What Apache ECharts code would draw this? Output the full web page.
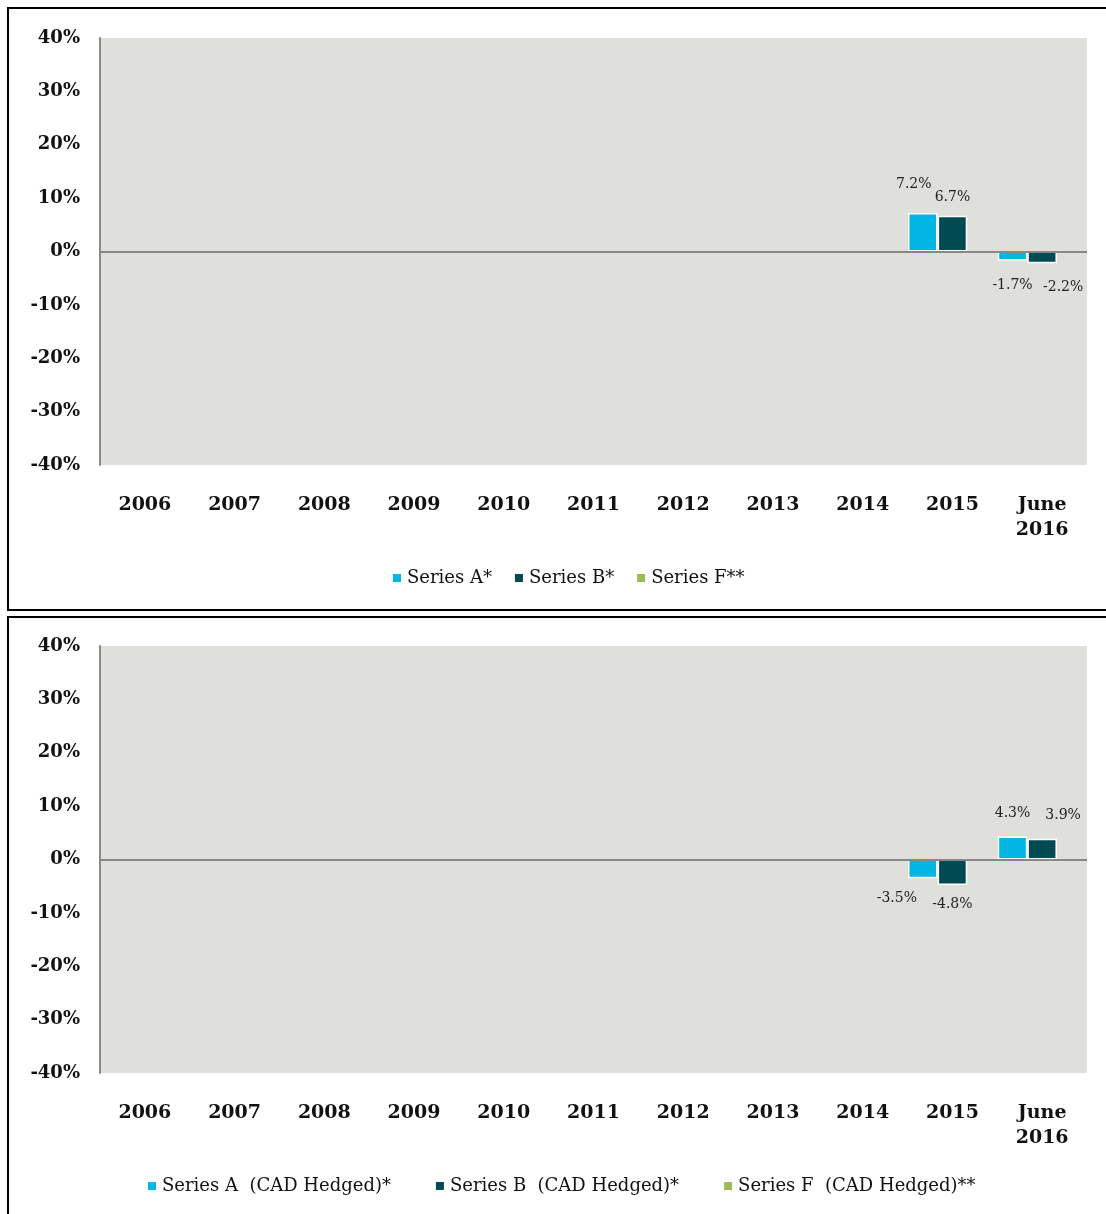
<!DOCTYPE html>
<html>
<head>
<meta charset="utf-8">
<script src="https://cdn.jsdelivr.net/npm/echarts@6/dist/echarts.min.js"></script>
<style>
  html, body { margin: 0; padding: 0; background: #fff; }
  #main { width: 1106px; height: 1214px; }
</style>
</head>
<body>
<div id="main"></div>
<script>
// categories (x axis)
var categories = ['2006', '2007', '2008', '2009', '2010', '2011', '2012', '2013', '2014', '2015', 'June\n2016'];

// top panel
var topNames = ['Series A*', 'Series B*', 'Series F**'];
var topA = [null, null, null, null, null, null, null, null, null, 7.2, -1.7];
var topB = [null, null, null, null, null, null, null, null, null, 6.7, -2.2];
var topF = [null, null, null, null, null, null, null, null, null, null, null];

// bottom panel
var botNames = ['Series A  (CAD Hedged)*', 'Series B  (CAD Hedged)*', 'Series F  (CAD Hedged)**'];
var botA = [null, null, null, null, null, null, null, null, null, -3.5, 4.3];
var botB = [null, null, null, null, null, null, null, null, null, -4.8, 3.9];
var botF = [null, null, null, null, null, null, null, null, null, null, null];

var colors = ['#00b7e3', '#004a54', '#9bbb59'];
var serif = '"DejaVu Serif", "Liberation Serif", serif';

// label nudges (dx, dy) per category index, like the original's staggered labels
var shifts = {
  topA: { 9: [-9, -12], 10: [0, 8] },
  topB: { 9: [0, -1], 10: [21, 7] },
  botA: { 9: [-26, 3], 10: [0, -6] },
  botB: { 9: [0, 2], 10: [21, -6] }
};

function toData(arr, sh) {
  sh = sh || {};
  return arr.map(function (v, i) {
    if (v === null) return null;
    return {
      value: v,
      label: { position: v < 0 ? 'bottom' : 'top', offset: sh[i] || [0, 0] }
    };
  });
}

function makeSeries(name, arr, sh, idx, color, withZero) {
  var s = {
    name: name,
    type: 'bar',
    xAxisIndex: idx,
    yAxisIndex: idx,
    data: toData(arr, sh),
    barGap: '0%',
    barCategoryGap: '1%',
    itemStyle: { color: color, borderColor: '#fff', borderWidth: 1.5 },
    label: {
      show: true,
      distance: 10,
      fontFamily: serif,
      fontSize: 14,
      color: '#222',
      formatter: function (p) { return p.value.toFixed(1) + '%'; }
    }
  };
  if (withZero) {
    s.markLine = {
      silent: true,
      symbol: 'none',
      label: { show: false },
      lineStyle: { color: '#888', width: 2, type: 'solid' },
      data: [{ yAxis: 0 }]
    };
  }
  return s;
}

function makeX(idx) {
  return {
    type: 'category',
    gridIndex: idx,
    data: categories,
    axisLine: { show: false },
    axisTick: { show: false },
    axisLabel: {
      margin: 28,
      fontFamily: serif,
      fontWeight: 'bold',
      fontSize: 19,
      lineHeight: 25,
      color: '#111'
    }
  };
}

function makeY(idx) {
  return {
    type: 'value',
    gridIndex: idx,
    min: -40,
    max: 40,
    interval: 10,
    axisLine: { show: true, lineStyle: { color: '#888', width: 2 } },
    axisTick: { show: false },
    splitLine: { show: false },
    axisLabel: {
      margin: 20,
      formatter: '{value}%',
      fontFamily: serif,
      fontWeight: 'bold',
      fontSize: 18,
      color: '#111'
    }
  };
}

var chart = echarts.init(document.getElementById('main'));
chart.setOption({
  animation: false,
  backgroundColor: '#fff',
  color: colors,
  graphic: [
    { type: 'rect', shape: { x: 8, y: 8, width: 1110, height: 602 }, style: { fill: 'none', stroke: '#000', lineWidth: 2 }, z: 0 },
    { type: 'rect', shape: { x: 8, y: 617, width: 1110, height: 620 }, style: { fill: 'none', stroke: '#000', lineWidth: 2 }, z: 0 }
  ],
  grid: [
    { left: 100, top: 38, width: 987, height: 427, show: true, backgroundColor: '#dfdfdb', borderWidth: 0 },
    { left: 100, top: 646, width: 987, height: 427, show: true, backgroundColor: '#dfdfdb', borderWidth: 0 }
  ],
  legend: [
    {
      data: topNames,
      left: 386,
      top: 564,
      icon: 'rect',
      itemWidth: 10,
      itemHeight: 10,
      itemGap: 21,
      textStyle: { fontFamily: serif, fontSize: 18, color: '#111' }
    },
    {
      data: botNames,
      left: 141,
      top: 1172,
      icon: 'rect',
      itemWidth: 10,
      itemHeight: 10,
      itemGap: 43,
      textStyle: { fontFamily: serif, fontSize: 18, color: '#111' }
    }
  ],
  xAxis: [makeX(0), makeX(1)],
  yAxis: [makeY(0), makeY(1)],
  series: [
    makeSeries(topNames[0], topA, shifts.topA, 0, colors[0], true),
    makeSeries(topNames[1], topB, shifts.topB, 0, colors[1], false),
    makeSeries(topNames[2], topF, null, 0, colors[2], false),
    makeSeries(botNames[0], botA, shifts.botA, 1, colors[0], true),
    makeSeries(botNames[1], botB, shifts.botB, 1, colors[1], false),
    makeSeries(botNames[2], botF, null, 1, colors[2], false)
  ]
});
</script>
</body>
</html>
